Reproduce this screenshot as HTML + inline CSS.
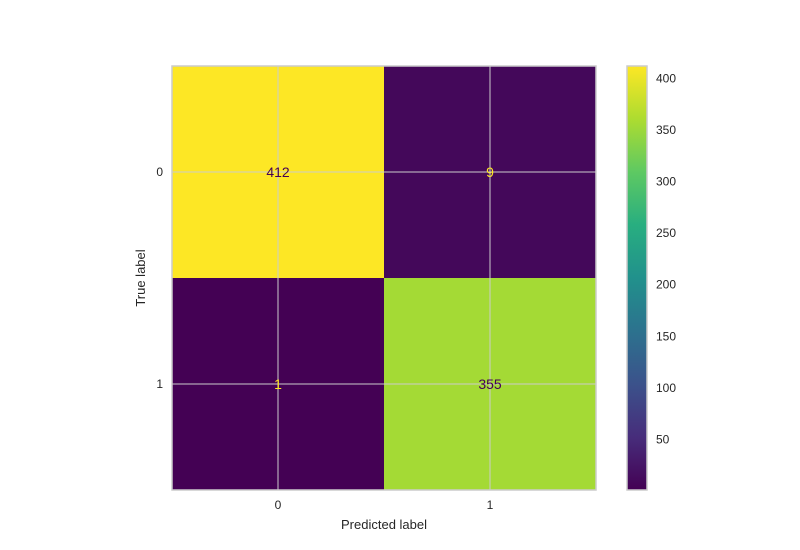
<!DOCTYPE html>
<html><head><meta charset="utf-8"><style>body{margin:0;background:#fff}svg{display:block;font-family:"Liberation Sans",sans-serif}</style></head>
<body>
<svg id="c" width="800" height="550">
<defs><linearGradient id="vir" x1="0" y1="1" x2="0" y2="0">
<stop offset="0" stop-color="#440154"/><stop offset="0.125" stop-color="#472d7b"/><stop offset="0.25" stop-color="#3b528b"/><stop offset="0.375" stop-color="#2c728e"/><stop offset="0.5" stop-color="#21918c"/><stop offset="0.625" stop-color="#28ae80"/><stop offset="0.75" stop-color="#5ec962"/><stop offset="0.875" stop-color="#addc30"/><stop offset="1" stop-color="#fde725"/></linearGradient></defs>
</svg>
<script>
const labels=["0","1"];
const matrix=[[412,9],[1,355]];
const cbTicks=[50,100,150,200,250,300,350,400];
const svg=document.getElementById('c');const NS='http://www.w3.org/2000/svg';
function mk(t,a,p){const e=document.createElementNS(NS,t);for(const k in a)e.setAttribute(k,a[k]);(p||svg).appendChild(e);return e;}
const X0=172,Y0=66,S=424,n=labels.length,cs=S/n;
const flat=matrix.flat(),vmin=Math.min(...flat),vmax=Math.max(...flat);
const stops=[[68,1,84],[71,45,123],[59,82,139],[44,114,142],[33,145,140],[40,174,128],[94,201,98],[173,220,48],[253,231,37]];
function vir(t){t=Math.max(0,Math.min(1,t))*8;const i=Math.min(7,Math.floor(t)),f=t-i,a=stops[i],b=stops[i+1];return `rgb(${a.map((v,k)=>Math.round(v+(b[k]-v)*f)).join(',')})`;}
const norm=v=>(v-vmin)/(vmax-vmin);
matrix.forEach((row,r)=>row.forEach((v,c)=>{
 const e=mk('rect',{x:X0+c*cs,y:Y0+r*cs,width:cs,height:cs,fill:vir(norm(v))});
 
 
}));
// grid lines
for(let i=0;i<n;i++){
 const p=X0+(i+0.5)*cs;
 mk('line',{x1:p,y1:Y0,x2:p,y2:Y0+S,stroke:'#cccccc','stroke-width':1});
 const py=Y0+(i+0.5)*cs;
 mk('line',{x1:X0,y1:py,x2:X0+S,y2:py,stroke:'#cccccc','stroke-width':1});
}
matrix.forEach((row,r)=>row.forEach((v,c)=>{
 const t=mk('text',{x:X0+(c+0.5)*cs,y:Y0+(r+0.5)*cs+5,'text-anchor':'middle','font-size':14,fill:norm(v)>0.5?'#440154':'#fde725'});
 t.textContent=v;
 
 
}));
const fr=mk('rect',{x:X0,y:Y0,width:S,height:S,fill:'none',stroke:'#cccccc','stroke-width':1.5});

labels.forEach((l,i)=>{
 const p=X0+(i+0.5)*cs;
 const t=mk('text',{x:p,y:Y0+S+19,'text-anchor':'middle','font-size':12,fill:'#262626'});t.textContent=l;
 
 const u=mk('text',{x:X0-9,y:Y0+(i+0.5)*cs+4,'text-anchor':'end','font-size':12,fill:'#262626'});u.textContent=l;
 
});
const xt=mk('text',{x:X0+S/2,y:529,'text-anchor':'middle','font-size':13,fill:'#262626'});xt.textContent='Predicted label';

const yt=mk('text',{x:145,y:Y0+S/2,'text-anchor':'middle','font-size':13,fill:'#262626',transform:`rotate(-90 145 ${Y0+S/2})`});yt.textContent='True label';

// colorbar
const CX=627,CW=20;
const cb=mk('rect',{x:CX,y:Y0,width:CW,height:S,fill:'url(#vir)',stroke:'#cccccc','stroke-width':1.5});

cbTicks.forEach(v=>{
 const y=Y0+S-norm(v)*S;
 const t=mk('text',{x:CX+CW+9,y:y+4,'font-size':12,fill:'#262626'});t.textContent=v;
 
});
</script>
</body></html>
